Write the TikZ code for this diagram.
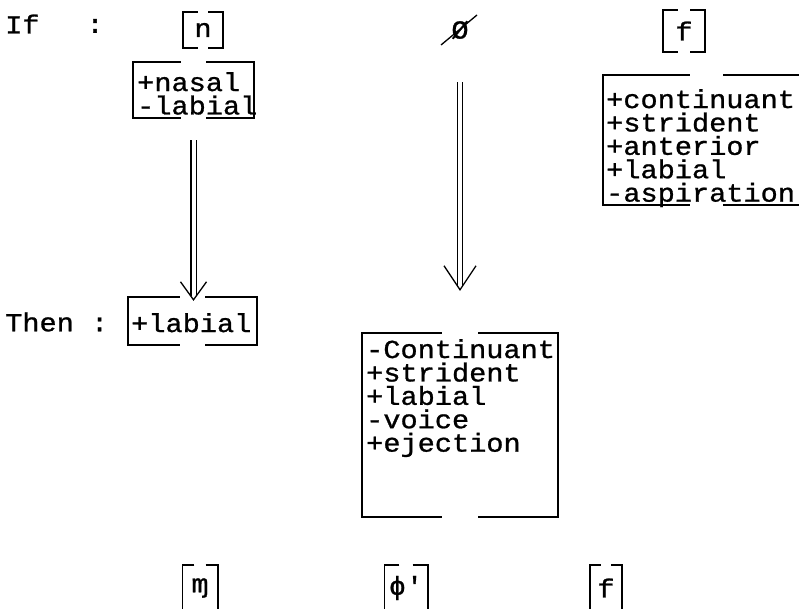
\documentclass[tikz,border=0pt]{standalone}
\usepackage{fontspec}
\setmonofont{Liberation Mono}[FakeStretch=1.1, FakeBold=1]
\usetikzlibrary{positioning}

\begin{document}
\begin{tikzpicture}[
    x=1pt, y=-1pt,
    tw/.style={font=\ttfamily\fontsize{26}{23.4}\selectfont, inner sep=0pt},
    feat/.style={tw, align=left, anchor=north west},
    mat/.style={inner sep=0pt},
    brk/.style={line width=1.6pt},
    shaft/.style={double, double distance=4pt, line width=1.1pt},
    vhead/.style={line width=1.3pt}
]
    \useasboundingbox (0,0) rectangle (799,609);

    % top row
    \node[tw, anchor=west] (ifw) at (5,24) {If};
    \node[tw] (ifc) at (95,26) {:};
    \node[tw, minimum width=40, minimum height=36] (nt) at (203,30) {n};
    \node[tw] (zero) at (460,30) {Ø};
    \node[tw, minimum width=42, minimum height=42] (ft) at (684,31) {f};

    % feature matrices, upper
    \node[mat, minimum width=121, minimum height=56] (m1) at (193.5,90) {};
    \node[feat] (m1t) at (137,72) {+nasal\\-labial};
    \node[mat, minimum width=207, minimum height=130] (mf) at (706.5,140) {};
    \node[feat] (mft) at (606,89) {+continuant\\+strident\\+anterior\\+labial\\-aspiration};

    % then row
    \node[tw, anchor=west] (then) at (5,322) {Then :};
    \node[mat, minimum width=129, minimum height=48] (lab) at (192.5,321) {};
    \node[feat] (labt) at (131,313) {+labial};
    \node[mat, minimum width=196, minimum height=184] (m2) at (460,425) {};
    \node[feat] (m2t) at (366,339) {-Continuant\\+strident\\+labial\\-voice\\+ejection};

    % bottom row
    \node[tw, minimum width=35, minimum height=46] (bm) at (200,588) {ɱ};
    \node[tw, minimum width=43, minimum height=46] (bp) at (406,588) {ɸ'};
    \node[tw, minimum width=32, minimum height=46] (bf) at (606,588) {f};

    % brackets
    \foreach \m/\a in {nt/15, ft/15, m1/48, mf/87, lab/52, m2/80, bm/12, bp/15, bf/11}
        \draw[brk] ([xshift=\a]\m.north west) -- (\m.north west) -- (\m.south west) -- ([xshift=\a]\m.south west)
                   ([xshift=-\a]\m.north east) -- (\m.north east) -- (\m.south east) -- ([xshift=-\a]\m.south east);

    % null slash
    \draw[vhead] ([xshift=-19,yshift=-15]zero.center) -- ([xshift=17,yshift=15]zero.center);

    % implication arrows
    \coordinate (tipA) at ([yshift=-3]m1.south |- lab.north);
    \coordinate (tipB) at ([yshift=43]m2.north);
    \draw[shaft, shorten <=22, shorten >=4] (m1.south) -- (tipA);
    \draw[vhead] ([xshift=-13,yshift=18]tipA) -- (tipA) -- ([xshift=13,yshift=18]tipA);
    \draw[shaft, shorten <=43, shorten >=4] (zero) -- (tipB);
    \draw[vhead] ([xshift=-16,yshift=24]tipB) -- (tipB) -- ([xshift=16,yshift=24]tipB);
\end{tikzpicture}
\end{document}
